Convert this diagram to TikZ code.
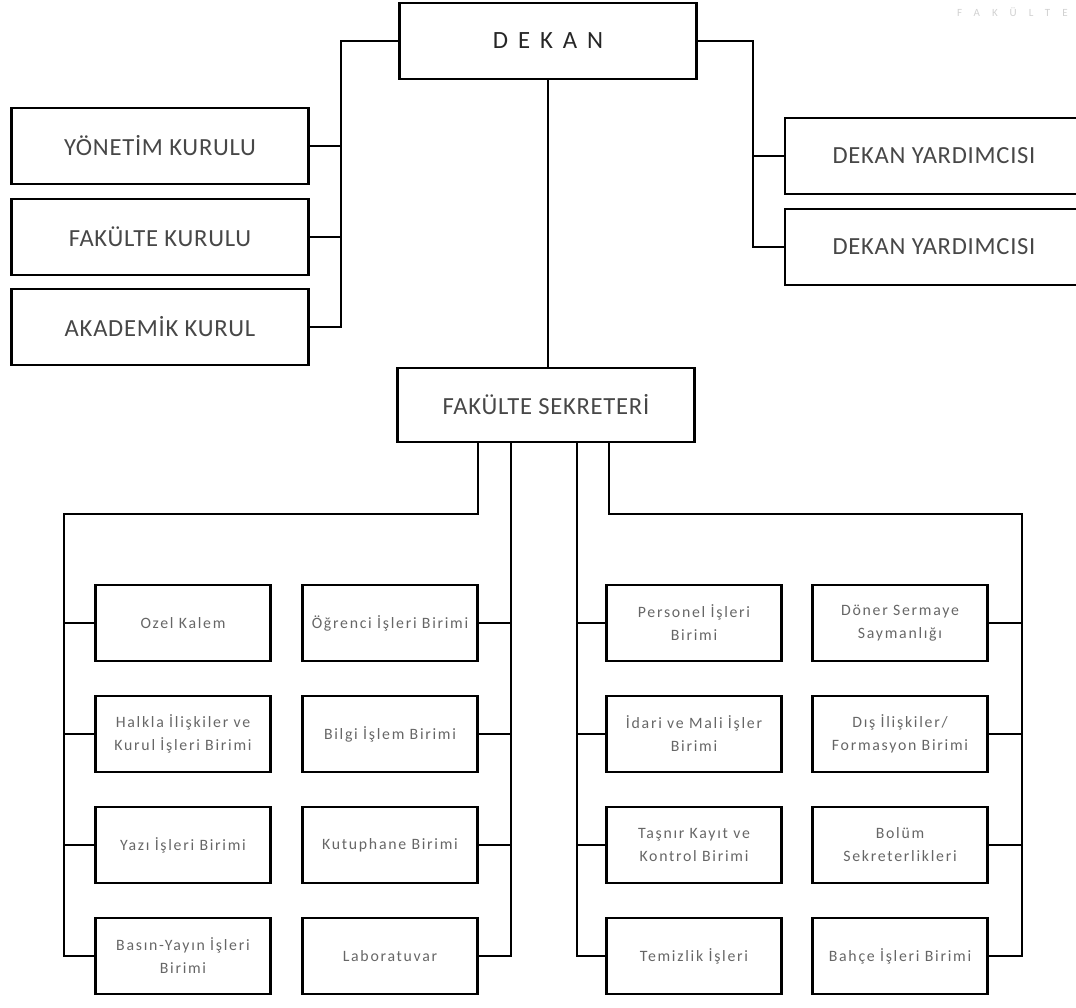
\documentclass[tikz,border=0pt]{standalone}
\usepackage{fontspec}
\setmainfont{Carlito}
\newfontfamily\topfont[LetterSpace=3]{Carlito}
\newfontfamily\deanfont[LetterSpace=40]{Carlito}
\newfontfamily\unitfont[LetterSpace=11]{Carlito}
\newfontfamily\headfont[LetterSpace=110]{Carlito}
\begin{document}
\begin{tikzpicture}[x=0.5pt,y=-0.5pt,
  topbox/.style={shape=rectangle,draw,line width=1.3pt,minimum width=148.5pt,minimum height=38pt,inner sep=0pt,text=black!72,font=\topfont\fontsize{12.3}{14}\selectfont},
  unitbox/.style={shape=rectangle,draw,line width=1.3pt,minimum width=87.5pt,minimum height=38pt,inner sep=0pt,align=center,text=black!60,font=\unitfont\fontsize{7.9}{11.5}\selectfont},
  link/.style={line width=1.3pt}]
\useasboundingbox (0,0) rectangle (1076,1007);
\node(header) [anchor=west,text=black!18,font=\headfont\fontsize{5.5}{6}\selectfont] at (950,12) {FAKÜLTE};
\node(dekan) [topbox,text=black!85,font=\deanfont\fontsize{12.4}{14}\selectfont] at (548,41) {DEKAN};
\node(yonetim) [topbox] at (160,146) {YÖNETİM KURULU};
\node(fkurul) [topbox] at (160,237) {FAKÜLTE KURULU};
\node(akademik) [topbox] at (160,327) {AKADEMİK KURUL};
\node(yard1) [topbox,minimum width=149pt] at (934,156) {DEKAN YARDIMCISI};
\node(yard2) [topbox,minimum width=149pt] at (934,247) {DEKAN YARDIMCISI};
\node(sekreter) [topbox,minimum height=37pt] at (546,405) {FAKÜLTE SEKRETERİ};
\node(ozel) [unitbox] at (183,623) {Ozel Kalem};
\node(halkla) [unitbox] at (183,734) {Halkla İlişkiler ve\\Kurul İşleri Birimi};
\node(yazi) [unitbox] at (183,845) {Yazı İşleri Birimi};
\node(basin) [unitbox] at (183,956) {Basın-Yayın İşleri\\Birimi};
\node(ogrenci) [unitbox] at (390,623) {Öğrenci İşleri Birimi};
\node(bilgi) [unitbox] at (390,734) {Bilgi İşlem Birimi};
\node(kutup) [unitbox] at (390,845) {Kutuphane Birimi};
\node(lab) [unitbox] at (390,956) {Laboratuvar};
\node(personel) [unitbox] at (694,623) {Personel İşleri\\Birimi};
\node(idari) [unitbox] at (694,734) {İdari ve Mali İşler\\Birimi};
\node(tasnir) [unitbox] at (694,845) {Taşnır Kayıt ve\\Kontrol Birimi};
\node(temizlik) [unitbox] at (694,956) {Temizlik İşleri};
\node(doner) [unitbox] at (900,623) {Döner Sermaye\\Saymanlığı};
\node(dis) [unitbox] at (900,734) {Dış İlişkiler/\\Formasyon Birimi};
\node(bolum) [unitbox] at (900,845) {Bolüm\\Sekreterlikleri};
\node(bahce) [unitbox] at (900,956) {Bahçe İşleri Birimi};
\coordinate(lbus) at (341,0);
\coordinate(rbus) at (753,0);
\coordinate(dropA) at (478,514);
\coordinate(dropB) at (511,0);
\coordinate(dropC) at (577,0);
\coordinate(dropD) at (609,514);
\coordinate(busL) at (64,514);
\coordinate(busR) at (1022,514);
\draw[link] (dekan.west) -| (lbus |- akademik.east) -- (akademik.east);
\draw[link] (dekan.east) -| (rbus |- yard2.west) -- (yard2.west);
\draw[link] (dekan.south) -- (dekan.south |- sekreter.north);
\foreach \n in {yonetim,fkurul} \draw[link] (\n.east) -- (\n.east -| lbus);
\draw[link] (yard1.west) -- (yard1.west -| rbus);
\draw[link] (sekreter.south -| dropA) -- (dropA) -- (busL) |- (basin.west);
\draw[link] (sekreter.south -| dropB) |- (lab.east);
\draw[link] (sekreter.south -| dropC) |- (temizlik.west);
\draw[link] (sekreter.south -| dropD) -- (dropD) -- (busR) |- (bahce.east);
\foreach \n in {ozel,halkla,yazi} \draw[link] (\n.west) -- (\n.west -| busL);
\foreach \n in {ogrenci,bilgi,kutup} \draw[link] (\n.east) -- (\n.east -| dropB);
\foreach \n in {personel,idari,tasnir} \draw[link] (\n.west) -- (\n.west -| dropC);
\foreach \n in {doner,dis,bolum} \draw[link] (\n.east) -- (\n.east -| busR);
\end{tikzpicture}
\end{document}
